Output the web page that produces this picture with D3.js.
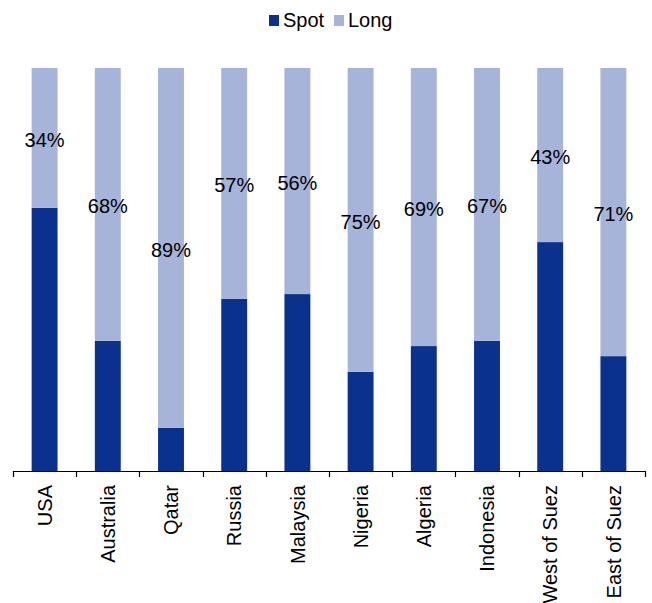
<!DOCTYPE html>
<html><head><meta charset="utf-8">
<script src="https://cdn.jsdelivr.net/npm/d3@7"></script>
<style>body{margin:0;background:#fff}svg{display:block;font-family:"Liberation Sans",Arial,sans-serif}</style>
</head><body>
<svg id="c" width="652" height="603"></svg>
<script>
const categories = ["USA","Australia","Qatar","Russia","Malaysia","Nigeria","Algeria","Indonesia","West of Suez","East of Suez"];
const longLabels = [34,68,89,57,56,75,69,67,43,71];
const spotShare = [65.3,32.3,10.7,42.7,43.9,24.6,31.0,32.3,56.8,28.5];
const seriesNames = ["Spot","Long"];
const colors = {Spot:"#0B318F", Long:"#A7B4DA"};

const svg = d3.select("#c");
const x = d3.scaleBand().domain(categories).range([13,645]).paddingInner(0.59).paddingOuter(0.295);
const y = d3.scaleLinear().domain([0,100]).range([471,68]);

const rows = categories.map((c,i)=>({cat:c, Spot:spotShare[i], Long:100-spotShare[i], label:longLabels[i]}));
const stack = d3.stack().keys(seriesNames)(rows);

svg.append("g").selectAll("g").data(stack).join("g")
  .attr("fill", d=>colors[d.key])
  .selectAll("rect").data(d=>d).join("rect")
  .attr("x", d=>x(d.data.cat))
  .attr("width", x.bandwidth())
  .attr("y", d=>y(d[1]))
  .attr("height", d=>y(d[0])-y(d[1]));

const longLayer = stack[1];
svg.append("g").selectAll("text").data(longLayer).join("text")
  .attr("x", d=>x(d.data.cat)+x.bandwidth()/2)
  .attr("y", d=>(y(d[0])+y(d[1]))/2 + 1.5)
  .attr("dy","0.36em")
  .attr("text-anchor","middle")
  .attr("font-size",20)
  .attr("fill","#000")
  .text(d=>d.data.label+"%");

const ax = svg.append("g");
ax.append("line").attr("x1",13).attr("x2",645).attr("y1",471.5).attr("y2",471.5).attr("stroke","#000").attr("stroke-width",1.2);
const bounds = categories.map(c=>x(c)-x.step()*x.paddingInner()/2).concat([645]);
ax.selectAll("line.t").data(bounds).join("line").attr("class","t")
  .attr("x1",d=>Math.round(d)+0.5).attr("x2",d=>Math.round(d)+0.5).attr("y1",471).attr("y2",477)
  .attr("stroke","#000").attr("stroke-width",1.2);
ax.selectAll("text").data(categories).join("text")
  .attr("transform", d=>`translate(${x(d)+x.bandwidth()/2},485) rotate(-90)`)
  .attr("dy","0.36em")
  .attr("text-anchor","end")
  .attr("font-size",20)
  .text(d=>d);

const lg = svg.append("g");
const items = [{k:"Spot",x:269},{k:"Long",x:334}];
items.forEach(it=>{
  lg.append("rect").attr("x",it.x).attr("y",15).attr("width",10).attr("height",11).attr("fill",colors[it.k]);
  lg.append("text").attr("x",it.x+14).attr("y",27).attr("font-size",20).text(it.k);
});
</script>
</body></html>
